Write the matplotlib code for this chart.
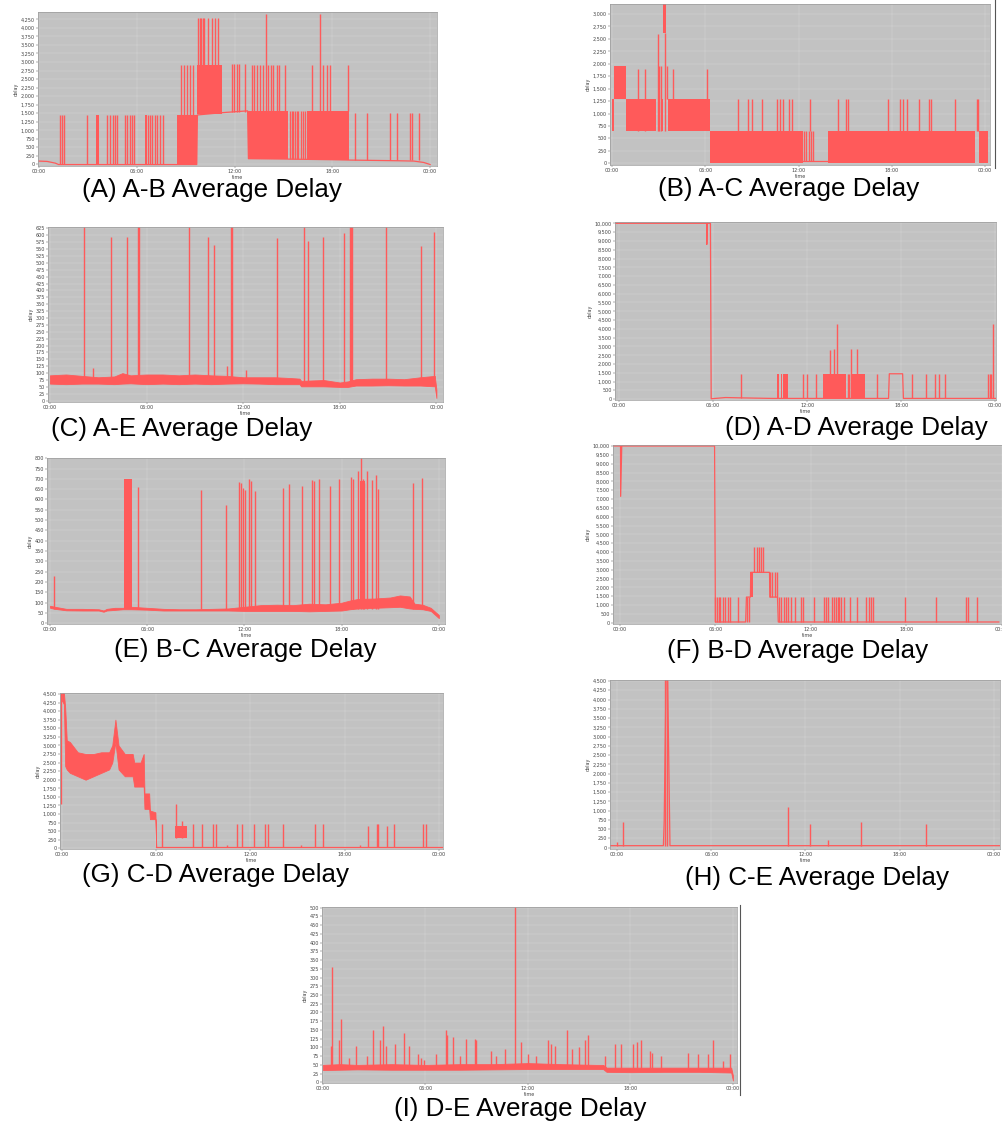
import matplotlib
matplotlib.use("Agg")
import matplotlib.pyplot as plt
from matplotlib.lines import Line2D
from matplotlib.ticker import FuncFormatter

W, H = 1002, 1129
RED = "#ff5a5a"
BG = "#c2c2c2"

# ---------------- (A) A-B ----------------
A_BASE_T = [0, 0.5, 1.0, 1.2, 9.68, 9.72, 11.3, 12.8, 12.85, 15, 18, 19, 22, 23, 23.6, 24.0]
A_BASE_V = [100, 90, 40, 0, 0, 1450, 1520, 1570, 170, 160, 140, 130, 110, 100, 60, 0]
A_BLOCKS = [(3.5, 3.7, 0, 1450), (6.5, 6.62, 0, 1450), (8.45, 9.7, 0, 1450),
            (9.7, 11.2, 1480, 2900), (12.85, 15.3, 160, 1560), (16.45, 19.0, 140, 1560)]
A_SPK_T = [1.29, 1.43, 1.55, 2.97, 4.19, 4.36, 4.52, 4.68, 4.8, 5.3, 5.4, 5.6, 5.7, 5.85,
           6.68, 6.8, 6.95, 7.1, 7.25, 7.45, 7.6,
           8.7, 8.9, 9.06, 9.26, 9.47,
           9.75, 9.85, 9.95, 10.05, 10.15, 10.4, 10.6, 10.78, 11.0,
           11.85, 11.98, 12.12, 12.3, 12.62,
           13.05, 13.19, 13.36, 13.56, 13.76, 14.07, 14.21, 14.38, 14.58, 14.74, 15.09,
           13.93, 17.24, 16.73, 17.44, 17.65, 17.85, 18.96,
           15.4, 15.5, 15.6, 15.72, 15.8, 15.91, 16.07, 16.22, 16.3,
           19.39, 20.1, 21.53, 21.94, 22.76, 22.87, 23.33]
A_SPK_LO = [0] * 21 + [1450] * 5 + [2900] * 9 + [1530] * 5 + [1560] * 11 + [1560] * 7 + [150] * 9 + [120] * 7
A_SPK_HI = [1450] * 21 + [2900] * 5 + [4300] * 9 + [2950] * 5 + [2900] * 11 + [4400, 4400, 2900, 2900, 2900, 2900, 2900] + [1560] * 9 + [1500] * 7

# ---------------- (B) A-C ----------------
B_BASE_T = [12.3, 13.9]
B_BASE_V = [40, 40]
B_BLOCKS = [(0.0, 0.13, 650, 1300), (0.13, 0.9, 1300, 1950), (0.9, 2.83, 650, 1300),
            (3.18, 3.3, 650, 1300), (3.3, 3.5, 2620, 3250), (3.58, 6.3, 650, 1300),
            (6.3, 12.3, 0, 650), (13.9, 23.35, 0, 650), (23.6, 24.2, 0, 650)]
B_SPK_T = [1.7, 2.1, 2.95, 3.05, 3.12, 3.4, 3.55, 3.94, 6.1,
           12.35, 12.48, 12.65, 12.8, 12.95,
           8.12, 8.77, 8.98, 9.63, 10.63, 10.8, 11.02, 11.4, 11.55, 12.73, 14.55, 15.05,
           15.2, 17.77, 18.52, 18.73, 18.99, 19.76, 20.39, 20.49, 22.06, 23.45, 23.52]
B_SPK_LO = [650, 650, 650, 650, 650, 650, 1300, 1300, 1300] + [40] * 5 + [650] * 23
B_SPK_HI = [1900, 1900, 2600, 1950, 1950, 2620, 1950, 1900, 1900] + [650] * 5 + [1300] * 23

# ---------------- (C) A-E ----------------
C_BAND_T = [0, 1, 2, 3, 4, 4.5, 5, 6, 7, 8, 9, 10, 11, 12, 13, 14, 15, 15.5, 15.6,
            17, 18, 18.5, 19, 20, 21, 22, 23, 23.9, 24.0]
C_BAND_LO = [62, 60, 62, 62, 60, 62, 63, 60, 62, 60, 62, 60, 62, 63, 62, 60, 60, 60, 52,
             52, 50, 50, 55, 55, 56, 55, 55, 52, 10]
C_BAND_HI = [92, 95, 90, 85, 88, 100, 92, 95, 95, 92, 95, 92, 90, 85, 85, 85, 82, 80, 72,
             75, 66, 70, 78, 80, 80, 78, 85, 90, 40]
C_SPK_T = [2.11, 2.7, 3.79, 4.76, 5.45, 5.53, 8.63, 9.83, 10.19, 11.0, 11.25, 11.32, 12.2,
           14.12, 15.8, 16.04, 16.94, 18.26, 18.65, 18.7, 18.75, 20.87, 23.06, 23.85]
C_SPK_HI = [630, 120, 595, 595, 630, 630, 630, 595, 565, 125, 630, 630, 110,
            590, 630, 580, 595, 610, 630, 630, 630, 630, 560, 612]

# ---------------- (D) A-D ----------------
D_BASE_T = [-0.3, 5.6, 5.6, 5.62, 5.83, 5.88, 6.8, 7.8, 9.8, 17.2, 17.25, 18.1, 18.15, 24.1]
D_BASE_V = [10000, 10000, 8800, 10000, 10000, 30, 100, 80, 50, 50, 1450, 1450, 50, 50]
D_BLOCKS = [(10.06, 10.23, 0, 1450), (10.32, 10.4, 0, 1450), (10.49, 10.81, 0, 1450),
            (13.04, 14.5, 0, 1450), (14.85, 15.7, 0, 1450)]
D_SPK_T = [7.79, 11.76, 11.98, 12.57, 13.46, 13.74, 13.89, 14.6, 14.7, 14.78, 15.21, 16.44,
           18.67, 19.59, 20.16, 20.44, 20.8, 23.55, 23.65, 23.75, 23.89]
D_SPK_HI = [1450, 1450, 1450, 1450, 2800, 2850, 4300, 1450, 1450, 2850, 2850, 1450,
            1450, 1450, 1450, 1450, 1450, 1450, 1450, 1450, 4300]

# ---------------- (E) B-C ----------------
E_BAND_T = [0, 0.3, 1, 2, 3, 3.3, 3.5, 4.0, 4.5, 5.0, 6, 7, 8, 9, 10, 11, 12, 13, 14, 15,
            16, 17, 18, 18.5, 19, 20, 21, 21.6, 22.2, 22.5, 23, 23.5, 24.0]
E_BAND_LO = [75, 70, 63, 62, 62, 56, 62, 65, 68, 68, 66, 62, 62, 62, 62, 62, 60, 60, 60, 60,
             58, 60, 62, 68, 72, 75, 78, 80, 72, 70, 68, 60, 25]
E_BAND_HI = [85, 80, 70, 70, 68, 62, 70, 75, 75, 80, 75, 70, 68, 68, 70, 72, 80, 88, 90, 88,
             95, 92, 100, 110, 118, 120, 125, 135, 130, 95, 90, 75, 40]
E_BLOCKS = [(4.57, 5.03, 70, 700), (19.15, 19.45, 90, 690)]
E_SPK_T = [0.25, 5.45, 9.32, 10.86, 11.69, 11.78, 11.94, 12.04, 12.31, 12.4, 12.64, 14.37,
           14.73, 15.56, 16.19, 16.3, 16.63, 17.28, 17.86, 18.56, 18.68, 19.03, 19.2, 19.3,
           19.4, 19.59, 19.9, 20.1, 20.23, 22.39, 22.94]
E_SPK_HI = [230, 660, 645, 575, 685, 680, 655, 645, 700, 690, 640, 655,
            675, 665, 695, 690, 700, 665, 700, 710, 700, 740, 800, 700,
            680, 740, 695, 720, 650, 680, 705]

# ---------------- (F) B-D ----------------
F_BASE_T = [-0.45, 0.04, 0.05, 0.12, 5.95, 6.0, 7.9, 7.95, 8.2, 8.22, 9.4, 9.42, 9.9, 9.95, 23.8]
F_BASE_V = [10000, 10000, 7150, 10000, 10000, 40, 40, 1450, 1450, 2850, 2850, 1450, 1450, 40, 40]
F_BLOCKS = [(8.18, 8.39, 1450, 2850)]
F_SPK_T = [8.45, 8.6, 8.75, 8.88, 9.0, 9.42, 9.55, 9.75, 9.88,
           6.0, 6.1, 6.2, 6.31, 6.46, 6.63, 6.79, 6.94, 7.42, 7.97, 8.08, 9.98, 10.14, 10.31,
           10.45, 10.56, 10.72, 10.97, 11.39, 11.49, 12.17, 12.84, 12.94, 13.08, 13.35, 13.46,
           13.56, 13.67, 13.77, 13.91, 14.08, 14.45, 14.91, 15.43, 15.63, 15.78, 15.9, 17.91,
           19.88, 21.74, 21.84, 22.46]
F_SPK_LO = [2850] * 5 + [1450] * 4 + [40] * 42
F_SPK_HI = [4300] * 5 + [2850] * 4 + [1450] * 42

# ---------------- (G) C-D ----------------
G_BAND_T = [0.0, 0.12, 0.2, 0.3, 0.5, 1.0, 1.5, 2.0, 2.5, 3.0, 3.2, 3.4, 3.6, 4.0, 4.5, 4.6,
            5.0, 5.2, 5.25, 5.55, 5.6, 5.95, 6.0]
G_BAND_LO = [4300, 4200, 2400, 2300, 2200, 2100, 2000, 2100, 2200, 2300, 2500, 3100, 2300,
             2100, 2100, 1800, 1800, 1800, 1150, 1150, 850, 850, 40]
G_BAND_HI = [4520, 4520, 4100, 3150, 3100, 2800, 2750, 2750, 2800, 2800, 3000, 3750, 3000,
             2750, 2750, 2500, 2500, 2750, 1600, 1600, 1100, 1050, 40]
G_BASE_T = [6.0, 24.2]
G_BASE_V = [40, 40]
G_BLOCKS = [(7.2, 7.94, 300, 650)]
G_SPK_T = [-0.05, 6.35, 7.23, 7.62, 8.37, 8.9, 9.64, 9.81, 11.12, 11.44, 12.23, 12.93, 13.14,
           14.1, 16.1, 16.64, 19.5, 20.04, 20.15, 20.72, 21.17, 23.02, 23.19, 10.5, 15.2, 19.0]
G_SPK_LO = [1300, 40, 300, 300] + [40] * 22
G_SPK_HI = [4520, 700, 1300, 800, 700, 700, 700, 700, 700, 700, 700, 700, 700,
            700, 700, 700, 650, 700, 700, 650, 700, 700, 700, 100, 100, 100]

# ---------------- (H) C-E ----------------
H_BASE_T = [-0.45, 2.95, 3.0, 3.12, 3.22, 3.37, 24.4]
H_BASE_V = [55, 55, 700, 4550, 4550, 55, 55]
H_SPK_T = [0.0, 0.4, 3.05, 3.16, 10.91, 12.29, 13.46, 15.52, 19.68]
H_SPK_HI = [160, 700, 4550, 4550, 1100, 650, 200, 700, 650]

# ---------------- (I) D-E ----------------
I_BAND_T = [0, 1, 2, 4, 6, 8, 10, 12, 14, 16, 16.4, 16.6, 18, 20, 22, 23.9, 24.0]
I_BAND_LO = [35, 36, 37, 36, 36, 36, 37, 38, 38, 38, 38, 30, 29, 30, 30, 28, 5]
I_BAND_HI = [50, 52, 50, 52, 50, 52, 52, 55, 52, 50, 50, 42, 42, 42, 42, 42, 20]
I_SPK_T = [0.49, 0.53, 0.94, 1.07, 1.52, 1.95, 2.58, 2.93, 3.32, 3.51, 3.71, 4.2, 4.74, 5.04,
           5.56, 5.76, 5.9, 6.64, 7.18, 7.28, 7.62, 8.0, 8.39, 8.88, 8.98, 9.86, 10.15, 10.64,
           11.22, 11.61, 12.0, 12.49, 13.18, 13.37, 13.57, 14.29, 14.6, 14.99, 15.32, 15.52,
           16.49, 17.08, 17.47, 18.15, 18.39, 18.64, 19.13, 19.29, 19.81, 21.37, 21.96, 22.55,
           22.83, 23.42, 23.81]
I_SPK_HI = [105, 330, 120, 180, 70, 105, 75, 150, 120, 160, 105, 110, 140, 105,
            80, 70, 65, 80, 150, 135, 130, 75, 125, 125, 120, 90, 75, 95,
            503, 115, 80, 75, 120, 110, 105, 150, 95, 100, 120, 135,
            75, 110, 110, 110, 115, 120, 90, 85, 75, 85, 80, 80,
            120, 60, 80]

# panel frames in pixels: (left, top, right, bottom), x range (hours), y range, y tick step, caption centre
PANELS = [
    ("(A) A-B Average Delay", (38, 12, 437, 166), (-0.06, 24.42), (-44, 4464), 250, (212, 190)),
    ("(B) A-C Average Delay", (610, 4, 990, 165), (-0.13, 24.31), (-34, 3200), 250, (789, 189)),
    ("(C) A-E Average Delay", (48, 227, 443, 402), (-0.12, 24.41), (-4.7, 630), 25, (182, 429)),
    ("(D) A-D Average Delay", (615, 222, 996, 400), (-0.26, 24.06), (-40, 10074), 500, (856, 428)),
    ("(E) B-C Average Delay", (47, 458, 445, 624), (-0.19, 24.38), (-3.4, 801), 50, (245, 650)),
    ("(F) B-D Average Delay", (613, 445, 1002, 624), (-0.43, 23.73), (-74, 10057), 500, (798, 651)),
    ("(G) C-D Average Delay", (60, 693, 443, 849), (-0.13, 24.27), (-20, 4528), 250, (216, 875)),
    ("(H) C-E Average Delay", (610, 680, 1000, 849), (-0.45, 24.39), (-35, 4527), 250, (817, 878)),
    ("(I) D-E Average Delay", (322, 907, 737, 1083), (-0.06, 24.24), (-2, 502), 25, (520, 1109)),
]


def setup_axes(fig, rect, xlim, ylim, ystep):
    l, t, r, b = rect
    ax = fig.add_axes([l / W, 1 - b / H, (r - l) / W, (b - t) / H])
    ax.set_facecolor(BG)
    ax.set_xlim(*xlim)
    ax.set_ylim(*ylim)
    ax.set_xticks([0, 6, 12, 18, 24])
    ax.set_xticklabels(["00:00", "06:00", "12:00", "18:00", "00:00"])
    top = int(ylim[1] // ystep) * ystep
    ax.set_yticks(list(range(0, top + 1, ystep)))
    ax.yaxis.set_major_formatter(FuncFormatter(lambda v, p: f"{int(round(v)):,}"))
    ax.tick_params(labelsize=3.5, length=1.2, width=0.3, pad=1, colors="#444444")
    ax.grid(True, color="#e4e4e4", lw=0.35, alpha=0.6)
    ax.set_axisbelow(True)
    for s in ax.spines.values():
        s.set_color("#9a9a9a")
        s.set_linewidth(0.5)
    ax.set_ylabel("delay", fontsize=3.5, labelpad=1.5, color="#444444")
    ax.set_xlabel("time", fontsize=3.5, labelpad=0.5, color="#444444")
    return ax


def draw(ax, base=None, band=None, blocks=(), spikes=None):
    if band is not None:
        ax.fill_between(band[0], band[1], band[2], color=RED, lw=0.6, edgecolor=RED)
    for t0, t1, lo, hi in blocks:
        ax.fill_between([t0, t1], [lo, lo], [hi, hi], color=RED, lw=0)
    if spikes is not None:
        ax.vlines(spikes[0], spikes[1], spikes[2], color=RED, lw=1.0)
    if base is not None:
        ax.plot(base[0], base[1], color=RED, lw=0.9)


fig = plt.figure(figsize=(W / 100, H / 100), dpi=100)
axes = []
for title, rect, xlim, ylim, ystep, cap in PANELS:
    axes.append(setup_axes(fig, rect, xlim, ylim, ystep))
    fig.text(cap[0] / W, 1 - cap[1] / H, title, ha="center", va="center",
             fontsize=18.7, family="Liberation Sans", color="black")

axA, axB, axC, axD, axE, axF, axG, axH, axI = axes

draw(axA, base=(A_BASE_T, A_BASE_V), blocks=A_BLOCKS, spikes=(A_SPK_T, A_SPK_LO, A_SPK_HI))
draw(axB, base=(B_BASE_T, B_BASE_V), blocks=B_BLOCKS, spikes=(B_SPK_T, B_SPK_LO, B_SPK_HI))
draw(axC, band=(C_BAND_T, C_BAND_LO, C_BAND_HI), spikes=(C_SPK_T, [65] * len(C_SPK_T), C_SPK_HI))
draw(axD, base=(D_BASE_T, D_BASE_V), blocks=D_BLOCKS, spikes=(D_SPK_T, [50] * len(D_SPK_T), D_SPK_HI))
draw(axE, band=(E_BAND_T, E_BAND_LO, E_BAND_HI), blocks=E_BLOCKS,
     spikes=(E_SPK_T, [70] * len(E_SPK_T), E_SPK_HI))
draw(axF, base=(F_BASE_T, F_BASE_V), blocks=F_BLOCKS, spikes=(F_SPK_T, F_SPK_LO, F_SPK_HI))
draw(axG, band=(G_BAND_T, G_BAND_LO, G_BAND_HI), base=(G_BASE_T, G_BASE_V), blocks=G_BLOCKS,
     spikes=(G_SPK_T, G_SPK_LO, G_SPK_HI))
draw(axH, base=(H_BASE_T, H_BASE_V), spikes=(H_SPK_T, [55] * len(H_SPK_T), H_SPK_HI))
draw(axI, band=(I_BAND_T, I_BAND_LO, I_BAND_HI), spikes=(I_SPK_T, [40] * len(I_SPK_T), I_SPK_HI))

# dark crop edges next to panels B and I in the source image
fig.add_artist(Line2D([995 / W, 995 / W], [1 - 0 / H, 1 - 168 / H], color="#555555", lw=0.8))
fig.add_artist(Line2D([740 / W, 740 / W], [1 - 905 / H, 1 - 1095 / H], color="#555555", lw=0.8))

fig.savefig("out.png", dpi=100, facecolor="white")
